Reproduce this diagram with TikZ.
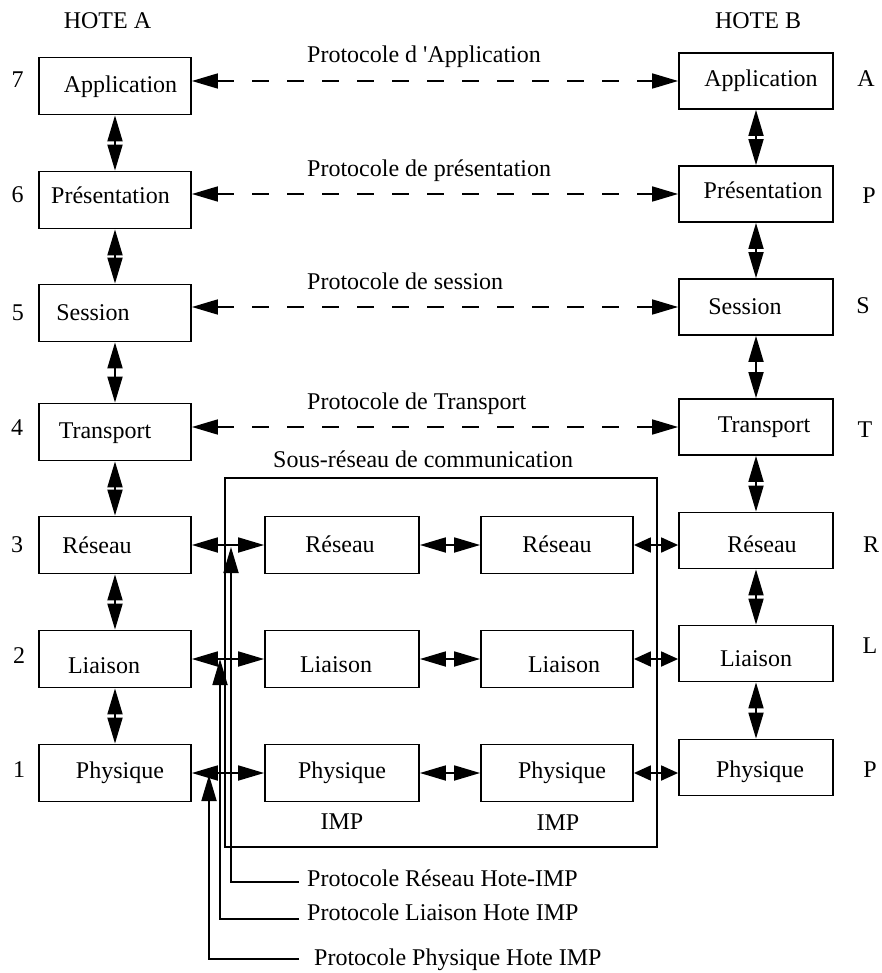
\documentclass[tikz,border=0pt]{standalone}
\usepackage{fontspec}
\setmainfont{Liberation Serif}
\usetikzlibrary{arrows.meta}
\begin{document}
\begin{tikzpicture}[x=1pt,y=-1pt,
  every node/.style={font=\fontsize{24}{28}\selectfont},
  bigtip/.tip={Triangle[length=26pt,width=15pt]},
  shorttip/.tip={Triangle[length=17pt,width=15pt]},
  layerbox/.style={draw, line width=1.8pt, minimum width=152pt, minimum height=57pt, inner sep=0pt},
  hostb/.style={layerbox, minimum width=154pt, minimum height=56pt},
  impbox/.style={layerbox, minimum width=154pt},
  txt/.style={anchor=base, inner sep=0pt},
  txtw/.style={anchor=base west, inner sep=0pt},
  dbl/.style={line width=1.8pt, bigtip-bigtip},
  dblshort/.style={line width=1.8pt, shorttip-shorttip},
  dashlink/.style={line width=1.7pt, dash pattern=on 17pt off 18pt, bigtip-bigtip},
  uparrow/.style={line width=1.8pt, -bigtip},
  frame/.style={draw, line width=1.8pt, inner sep=0pt}
]
\useasboundingbox (0,0) rectangle (881,973);

% host A layers
\node[layerbox] (a7) at (115,86) {};
\node[layerbox] (a6) at (115,200) {};
\node[layerbox] (a5) at (115,313) {};
\node[layerbox] (a4) at (115,432) {};
\node[layerbox] (a3) at (115,545) {};
\node[layerbox] (a2) at (115,659) {};
\node[layerbox] (a1) at (115,773) {};

% host B layers
\node[hostb] (b7) at (756,81) {};
\node[hostb] (b6) at (756,194) {};
\node[hostb] (b5) at (756,307) {};
\node[hostb] (b4) at (756,427) {};
\node[hostb] (b3) at (756,540.5) {};
\node[hostb] (b2) at (756,653.5) {};
\node[hostb] (b1) at (756,767.5) {};

% communication subnet and its two IMPs
\node[frame, minimum width=432pt, minimum height=369pt] (subnet) at (441,662.5) {};
\node[impbox] (m3) at (342,545) {};
\node[impbox] (m2) at (342,659) {};
\node[impbox] (m1) at (342,773) {};
\node[layerbox] (n3) at (557,545) {};
\node[layerbox] (n2) at (557,659) {};
\node[layerbox] (n1) at (557,773) {};

% box texts
\node[txt] (ta7) at (120.5,93) {Application};
\node[txt] (ta6) at (110.5,204) {Présentation};
\node[txt] (ta5) at (93,320) {Session};
\node[txt] (ta4) at (105,438) {Transport};
\node[txt] (ta3) at (97,553) {Réseau};
\node[txt] (ta2) at (104,673) {Liaison};
\node[txt] (ta1) at (120,778) {Physique};

\node[txt] (tb7) at (761,87) {Application};
\node[txt] (tb6) at (763,199) {Présentation};
\node[txt] (tb5) at (745,314) {Session};
\node[txt] (tb4) at (764,432) {Transport};
\node[txt] (tb3) at (762,552) {Réseau};
\node[txt] (tb2) at (756,666) {Liaison};
\node[txt] (tb1) at (760,777) {Physique};

\node[txt] (tm3) at (340,552) {Réseau};
\node[txt] (tm2) at (336,672) {Liaison};
\node[txt] (tm1) at (342,778) {Physique};
\node[txt] (tn3) at (557,552) {Réseau};
\node[txt] (tn2) at (564,672) {Liaison};
\node[txt] (tn1) at (562,778) {Physique};
\node[txt] (imp1) at (342,829) {IMP};
\node[txt] (imp2) at (558,830) {IMP};

% headings and layer indices
\node[txt] (hosta) at (107.5,29) {HOTE A};
\node[txt] (hostb) at (758,29) {HOTE B};
\node[txt] (n7) at (17.5,88) {7};
\node[txt] (n6) at (17.5,203) {6};
\node[txt] (n5) at (18,320) {5};
\node[txt] (n4) at (17,435) {4};
\node[txt] (n3i) at (17,552) {3};
\node[txt] (n2i) at (19,663) {2};
\node[txt] (n1i) at (19,777) {1};
\node[txt] (la) at (866,87) {A};
\node[txt] (lp) at (869,204) {P};
\node[txt] (ls) at (863,313) {S};
\node[txt] (lt) at (865,437) {T};
\node[txt] (lr) at (871,552) {R};
\node[txt] (ll) at (870,653) {L};
\node[txt] (lph) at (870,777) {P};

% peer protocol captions
\node[txtw] (pa) at (307,63) {Protocole d \textquotesingle Application};
\node[txtw] (pp) at (307,177) {Protocole de présentation};
\node[txtw] (ps) at (307,290) {Protocole de session};
\node[txtw] (pt) at (307,409) {Protocole de Transport};
\node[txtw] (psub) at (273,467) {Sous-réseau de communication};
\node[txtw] (pr) at (307,886) {Protocole Réseau Hote-IMP};
\node[txtw] (pl) at (307,920) {Protocole Liaison Hote IMP};
\node[txtw] (pph) at (314,965) {Protocole Physique Hote IMP};

% vertical interfaces
\draw[dbl] (a7.south) -- (a6.north);
\draw[dbl] (a6.south) -- (a5.north);
\draw[dbl] (a5.south) -- (a4.north);
\draw[dbl] (a4.south) -- (a3.north);
\draw[dbl] (a3.south) -- (a2.north);
\draw[dbl] (a2.south) -- (a1.north);
\draw[dbl] (b7.south) -- (b6.north);
\draw[dbl] (b6.south) -- (b5.north);
\draw[dbl] (b5.south) -- (b4.north);
\draw[dbl] (b4.south) -- (b3.north);
\draw[dbl] (b3.south) -- (b2.north);
\draw[dbl] (b2.south) -- (b1.north);

% peer-to-peer protocols
\draw[dashlink] (b7.west -| a7.east) -- (b7.west);
\draw[dashlink] (b6.west -| a6.east) -- (b6.west);
\draw[dashlink] (b5.west -| a5.east) -- (b5.west);
\draw[dashlink] (b4.west -| a4.east) -- (b4.west);

% links through the subnet
\draw[dbl] (a3.east) -- (m3.west);
\draw[dbl] (a2.east) -- (m2.west);
\draw[dbl] (a1.east) -- (m1.west);
\draw[dbl] (m3.east) -- (n3.west);
\draw[dbl] (m2.east) -- (n2.west);
\draw[dbl] (m1.east) -- (n1.west);
\draw[dblshort] (n3.east) -- (n3.east -| b3.west);
\draw[dblshort] (n2.east) -- (n2.east -| b2.west);
\draw[dblshort] (n1.east) -- (n1.east -| b1.west);

% host-IMP protocol leaders
\coordinate (rend) at (299,882);
\coordinate (rcorner) at (231,882);
\coordinate (lend) at (299,919);
\coordinate (lcorner) at (220,919);
\coordinate (phend) at (299,959);
\coordinate (phcorner) at (209,959);
\draw[uparrow] (rend) -- (rcorner) -- ([yshift=-2pt]rcorner |- a3.east);
\draw[uparrow] (lend) -- (lcorner) -- (lcorner |- a2.east);
\draw[uparrow] (phend) -- (phcorner) -- ([yshift=-2pt]phcorner |- a1.east);
\end{tikzpicture}
\end{document}
